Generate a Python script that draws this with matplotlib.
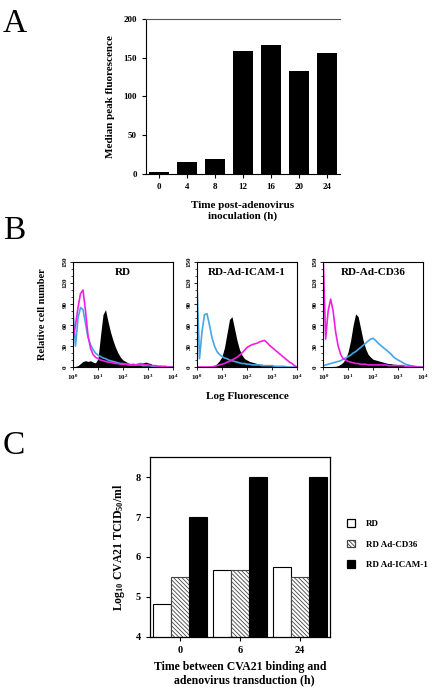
import matplotlib
matplotlib.use("Agg")
import matplotlib.pyplot as plt
from matplotlib.patches import Patch
from matplotlib.ticker import MultipleLocator, LogLocator, NullFormatter
import numpy as np

plt.rcParams["font.family"] = ["Liberation Serif", "DejaVu Serif"]
plt.rcParams["font.weight"] = "bold"
plt.rcParams["axes.labelweight"] = "bold"
plt.rcParams["mathtext.fontset"] = "custom"
plt.rcParams["mathtext.rm"] = "Liberation Serif:bold"
plt.rcParams["mathtext.default"] = "rm"
plt.rcParams["hatch.linewidth"] = 0.6

# --- panel A: median peak fluorescence vs time
time_labels = ["0", "4", "8", "12", "16", "20", "24"]
median_peak = [3, 15, 19, 159, 166, 133, 156]

# --- panel B: flow cytometry histograms (log10 fluorescence bins)
log_bins = [0.0, 0.1, 0.2, 0.3, 0.4, 0.5, 0.6, 0.7, 0.8, 0.9,
            1.0, 1.1, 1.2, 1.3, 1.4, 1.5, 1.6, 1.7, 1.8, 1.9,
            2.0, 2.1, 2.2, 2.3, 2.4, 2.5, 2.6, 2.7, 2.8, 2.9,
            3.0, 3.1, 3.2, 3.3, 3.4, 3.5, 3.6, 3.7, 3.8, 3.9, 4.0]
hist_titles = ["RD", "RD-Ad-ICAM-1", "RD-Ad-CD36"]
hist_black = [
    [0, 1, 2, 5, 8, 9, 8, 9, 7, 6, 12, 45, 75, 82, 65, 50, 38, 28, 20, 14,
     10, 8, 6, 5, 4, 4, 5, 5, 6, 7, 6, 5, 3, 3, 2, 2, 1, 1, 1, 0, 0],
    [0, 0, 0, 0, 0, 1, 1, 2, 5, 9, 15, 28, 48, 68, 72, 55, 38, 25, 17, 12,
     10, 8, 7, 6, 5, 4, 4, 3, 3, 3, 3, 2, 2, 2, 1, 1, 1, 0, 0, 0, 0],
    [0, 0, 0, 0, 1, 1, 2, 4, 7, 12, 22, 38, 60, 76, 72, 55, 38, 26, 18, 14,
     11, 10, 9, 8, 7, 6, 5, 5, 4, 4, 3, 3, 2, 2, 1, 1, 1, 0, 0, 0, 0],
]
hist_magenta = [
    [40, 60, 85, 105, 110, 80, 45, 27, 18, 14, 12, 10, 9, 8, 7, 7, 6, 5, 5, 4,
     4, 4, 3, 3, 4, 3, 4, 5, 4, 3, 3, 2, 2, 2, 1, 1, 1, 1, 0, 0, 0],
    [0, 0, 0, 0, 0, 0, 0, 1, 2, 3, 4, 5, 7, 8, 10, 12, 14, 17, 20, 24,
     28, 30, 32, 33, 34, 36, 37, 38, 35, 31, 28, 25, 22, 19, 16, 13, 10, 7, 5, 2, 0],
    [160, 40, 80, 97, 80, 50, 30, 18, 12, 10, 8, 7, 6, 5, 5, 4, 4, 4, 3, 3,
     3, 3, 3, 3, 3, 3, 2, 2, 2, 2, 2, 2, 2, 1, 1, 1, 1, 0, 0, 0, 0],
]
hist_blue = [
    [80, 30, 70, 85, 82, 62, 42, 32, 25, 20, 17, 15, 13, 12, 10, 9, 8, 7, 6, 5,
     5, 4, 4, 3, 3, 3, 3, 3, 2, 2, 2, 2, 1, 1, 1, 1, 0, 0, 0, 0, 0],
    [118, 12, 50, 75, 76, 60, 42, 30, 22, 18, 15, 13, 12, 10, 9, 8, 7, 6, 5, 5,
     4, 4, 3, 3, 3, 3, 2, 2, 2, 2, 2, 1, 1, 1, 1, 1, 0, 0, 0, 0, 0],
    [2, 3, 4, 5, 6, 7, 8, 9, 11, 13, 15, 17, 20, 22, 25, 28, 31, 34, 37, 40,
     41, 38, 34, 31, 28, 25, 22, 19, 15, 12, 10, 8, 6, 4, 3, 2, 1, 1, 0, 0, 0],
]

# --- panel C: CVA21 titres
delay_labels = ["0", "6", "24"]
titre_rd = [4.83, 5.67, 5.75]
titre_cd36 = [5.5, 5.67, 5.5]
titre_icam = [7.0, 8.0, 8.0]

MAGENTA = "#f21ee6"
BLUE = "#45a6e6"
HATCH = "\\" * 8

fig = plt.figure(figsize=(4.32, 6.89), dpi=100)

# panel letters
fig.text(0.007, 0.953, "A", fontsize=24, fontweight="normal")
fig.text(0.007, 0.653, "B", fontsize=24, fontweight="normal")
fig.text(0.007, 0.341, "C", fontsize=24, fontweight="normal")

# ---------------- A
axA = fig.add_axes([0.338, 0.7475, 0.449, 0.225])
xA = np.arange(len(time_labels))
axA.bar(xA, median_peak, width=0.7, color="black")
axA.set_xlim(-0.45, 6.45)
axA.set_ylim(0, 200)
axA.set_yticks([0, 50, 100, 150, 200])
axA.set_xticks(xA)
axA.set_xticklabels(time_labels)
axA.spines["right"].set_visible(False)
axA.spines["top"].set_color("#555555")
axA.tick_params(labelsize=6.5, length=3, width=0.8)
axA.set_ylabel("Median peak fluorescence", fontsize=8, labelpad=6)
axA.set_xlabel("Time post-adenovirus\ninoculation (h)", fontsize=8, labelpad=7)

# ---------------- B
x_fluor = [10 ** v for v in log_bins]
lefts = [0.169, 0.456, 0.748]
for i, left in enumerate(lefts):
    ax = fig.add_axes([left, 0.4673, 0.2315, 0.1524])
    ax.fill_between(x_fluor, hist_black[i], color="black", lw=0)
    ax.plot(x_fluor, hist_blue[i], color=BLUE, lw=1.2)
    ax.plot(x_fluor, hist_magenta[i], color=MAGENTA, lw=1.2)
    ax.set_xscale("log")
    ax.set_xlim(1, 1e4)
    ax.set_ylim(0, 150)
    ax.set_xticks([1, 10, 100, 1000, 10000])
    ax.set_xticklabels(["$10^0$", "$10^1$", "$10^2$", "$10^3$", "$10^4$"])
    ax.xaxis.set_minor_locator(LogLocator(base=10, subs=np.arange(2, 10)))
    ax.xaxis.set_minor_formatter(NullFormatter())
    ax.set_yticks([0, 30, 60, 90, 120, 150])
    ax.yaxis.set_minor_locator(MultipleLocator(10))
    ax.tick_params(labelsize=5, length=2.5, width=0.6, pad=1.5)
    ax.tick_params(which="minor", length=1.5, width=0.5)
    for lab in ax.get_yticklabels():
        lab.set_rotation(90)
        lab.set_va("center")
    for sp in ax.spines.values():
        sp.set_linewidth(0.8)
    ax.text(0.5, 0.9, hist_titles[i], transform=ax.transAxes, ha="center",
            va="center", fontsize=8)
    if i == 0:
        ax.set_ylabel("Relative cell number", fontsize=7.5, labelpad=11)
    if i == 1:
        ax.set_xlabel("Log Fluorescence", fontsize=8, labelpad=7)

# ---------------- C
axC = fig.add_axes([0.347, 0.0755, 0.4167, 0.2612])
xC = np.arange(len(delay_labels))
bw = 0.3
axC.bar(xC - bw, titre_rd, width=bw, color="white", edgecolor="black", lw=0.8)
axC.bar(xC, titre_cd36, width=bw, color="white", edgecolor="#444444", hatch=HATCH, lw=0.8)
axC.bar(xC + bw, titre_icam, width=bw, color="black", edgecolor="black", lw=0.8)
axC.set_xlim(-0.5, 2.5)
axC.set_ylim(4, 8.5)
axC.set_yticks([4, 5, 6, 7, 8])
axC.set_xticks(xC)
axC.set_xticklabels(delay_labels)
axC.tick_params(labelsize=7.5, length=3, width=0.8)
for sp in axC.spines.values():
    sp.set_linewidth(0.9)
axC.set_ylabel("Log$_{10}$ CVA21 TCID$_{50}$/ml", fontsize=8.5, labelpad=6)
axC.set_xlabel("Time between CVA21 binding and\n   adenovirus transduction (h)",
               fontsize=8.5, labelpad=4)

handles = [
    Patch(facecolor="white", edgecolor="black", lw=0.9),
    Patch(facecolor="white", edgecolor="#444444", hatch=HATCH, lw=0.9),
    Patch(facecolor="black", edgecolor="black", lw=0.9),
]
fig.legend(handles, ["RD", "RD Ad-CD36", "RD Ad-ICAM-1"], loc="center left",
           bbox_to_anchor=(0.785, 0.21), frameon=False, fontsize=6.5,
           handlelength=0.9, handleheight=0.9, labelspacing=1.3, handletextpad=1.2)

fig.savefig("out.png", dpi=100)
